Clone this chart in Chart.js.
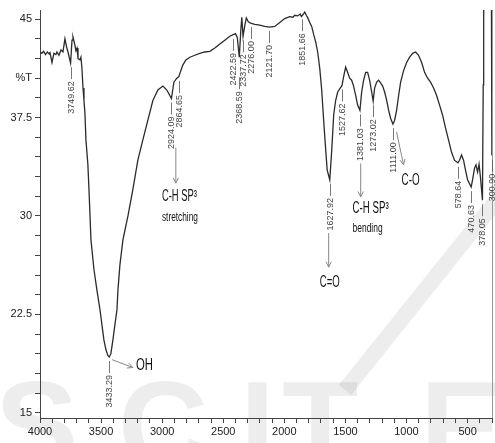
<!DOCTYPE html>
<html>
<head>
<meta charset="utf-8">
<script src="https://cdn.jsdelivr.net/npm/chart.js@4"></script>
<style>
  html, body { margin: 0; padding: 0; background: #fff; }
  #wrap { width: 495px; height: 443px; position: relative; }
</style>
</head>
<body>
<div id="wrap"><canvas id="ftir"></canvas></div>
<script>
// FTIR spectrum, values (wavenumber cm-1 / %T)
const wavenumbers = [
  4000, 3985, 3970, 3955, 3940, 3925, 3918, 3902, 3886, 3870, 3861, 3845, 3828, 3812, 3796, 3783, 3771,
  3749.62, 3738, 3730, 3714, 3706, 3697, 3689, 3673, 3665, 3657, 3648, 3640, 3632, 3624, 3608, 3599,
  3583, 3558, 3534, 3509, 3477, 3460, 3444, 3433.29, 3420, 3403, 3387, 3370, 3362, 3346, 3321, 3280,
  3240, 3199, 3158, 3117, 3076, 3035, 2994, 2962, 2924.09, 2904, 2880, 2864.65, 2831, 2806, 2773, 2733,
  2692, 2651, 2610, 2569, 2528, 2487, 2446, 2422.59, 2400, 2385, 2368.59, 2356, 2348, 2337.72, 2322,
  2311, 2295, 2276.00, 2242, 2201, 2160, 2121.70, 2078, 2037, 1997, 1956, 1930, 1915, 1890, 1870, 1860,
  1851.66, 1840, 1833, 1820, 1808, 1792, 1776, 1759, 1743, 1727, 1710, 1694, 1678, 1661, 1649, 1627.92,
  1612, 1596, 1580, 1563, 1527.62, 1514, 1498, 1482, 1465, 1449, 1433, 1416, 1400, 1381.03, 1367, 1351,
  1334, 1318, 1302, 1285, 1273.02, 1261, 1244, 1228, 1212, 1195, 1179, 1163, 1146, 1130, 1111.00, 1097,
  1081, 1064, 1048, 1023, 999, 974, 950, 925, 901, 876, 852, 827, 803, 778, 754, 729, 705, 680, 656, 631,
  607, 578.64, 566, 549, 533, 517, 500, 470.63, 459, 443, 431, 418, 406, 394, 378.05, 372, 368, 340, 305,
  300.90
];
const transmittance = [
  42.5, 42.4, 42.55, 42.3, 42.5, 42.35, 42.45, 41.7, 42.4, 42.3, 42.5, 42.25, 42.65, 42.5, 43.5, 42.9, 42.5,
  41.65, 43.4, 43.65, 43.0, 42.6, 42.8, 42.0, 41.9, 42.1, 41.3, 39.75, 38.8, 37.8, 35.8, 33.9, 32.0,
  28.2, 25.9, 24.35, 22.85, 20.55, 19.8, 19.35, 19.25, 19.5, 20.55, 21.7, 22.85, 24.35, 26.25, 28.2, 30.0,
  32.0, 34.25, 35.8, 37.3, 38.8, 39.6, 39.9, 39.6, 38.95, 40.2, 40.5, 40.6, 41.5, 41.9, 42.1, 42.25,
  42.4, 42.5, 42.55, 42.8, 43.1, 43.4, 43.7, 43.8, 43.9, 43.6, 42.1, 44.2, 45.15, 43.7, 44.6,
  45.1, 44.8, 44.7, 44.6, 44.55, 44.45, 44.4, 44.45, 44.75, 45.05, 45.2, 45.15, 45.3, 45.25, 45.4, 45.2,
  45.3, 45.45, 45.55, 45.3, 45.1, 44.75, 44.45, 43.8, 43.25, 42.5, 41.25, 39.6, 37.3, 35.0, 33.5, 32.75,
  35.0, 37.7, 38.8, 39.45, 39.95, 40.65, 41.35, 40.95, 40.5, 40.35, 39.9, 39.2, 38.45, 38.05, 39.45, 40.35,
  40.95, 40.95, 40.35, 39.45, 38.75, 39.75, 40.2, 40.35, 40.15, 39.9, 39.45, 38.85, 38.05, 37.45, 37.0, 37.3,
  38.05, 39.2, 40.2, 41.1, 41.7, 42.1, 42.4, 42.5, 42.25, 41.7, 40.95, 40.5, 40.2, 39.75, 39.2, 38.45, 37.7, 36.7, 35.8, 34.85,
  34.25, 34.05, 34.25, 34.65, 34.25, 33.5, 32.75, 32.2, 32.75, 33.65, 33.9, 33.35, 33.95, 32.9, 31.2, 40.0, 46.5, 47.5, 47.0,
  34.6
];

// labelled peaks (text = wavenumber)
const peakLabels = [3749.62, 3433.29, 2924.09, 2864.65, 2422.59, 2368.59, 2337.72, 2276.00, 2121.70,
  1851.66, 1627.92, 1527.62, 1381.03, 1273.02, 1111.00, 578.64, 470.63, 378.05, 300.90];

// axis ticks
const xTickValues = [4000, 3900, 3800, 3700, 3600, 3500, 3400, 3300, 3200, 3100, 3000, 2900, 2800, 2700,
  2600, 2500, 2400, 2300, 2200, 2100, 2000, 1900, 1800, 1700, 1600, 1500, 1400, 1300, 1200, 1100, 1000,
  900, 800, 700, 600, 500, 400, 300];
const xTickLabels = { 4000: '4000', 3500: '3500', 3000: '3000', 2500: '2500', 2000: '2000', 1500: '1500', 1000: '1000', 500: '500' };
const yTickValues = [15, 16.5, 18, 19.5, 21, 22.5, 24, 25.5, 27, 28.5, 30, 31.5, 33, 34.5, 36, 37.5, 39, 40.5, 42, 43.5, 45];
const yTickLabels = { 45: '45', 40.5: '%T', 37.5: '37.5', 30: '30', 22.5: '22.5', 15: '15' };

// band assignments: text, anchor (wavenumber, %T), arrow from/to
const bandNotes = [
  { text: 'C-H SP³', x: 3002, y: 31.45, size: 16, width: 35 },
  { text: 'stretching', x: 3002, y: 29.9, size: 12, width: 36 },
  { text: 'C-H SP³', x: 1441, y: 30.6, size: 16, width: 36 },
  { text: 'bending', x: 1441, y: 29.0, size: 12, width: 30 },
  { text: 'C=O', x: 1710, y: 24.95, size: 17, width: 20 },
  { text: 'C-O', x: 1040, y: 32.75, size: 17, width: 18 },
  { text: 'OH', x: 3215, y: 18.65, size: 17, width: 17 }
];
const bandArrows = [
  { from: [2888, 35.2], to: [2888, 32.5] },
  { from: [1375, 34.0], to: [1375, 31.45] },
  { from: [1637, 28.7], to: [1637, 26.1] },
  { from: [1081, 36.4], to: [1024, 33.9] },
  { from: [3411, 19.05], to: [3240, 18.45] }
];

const FONT = '"Liberation Sans Narrow", "Liberation Sans", Arial, sans-serif';

// faint publisher watermark behind the plot
const watermark = {
  id: 'watermark',
  beforeDraw(chart) {
    const ctx = chart.ctx;
    ctx.save();
    ctx.fillStyle = 'rgba(0,0,0,0.07)';
    ctx.font = 'bold 125px "Liberation Sans", Arial, sans-serif';
    ctx.textBaseline = 'alphabetic';
    [['S', -5], ['C', 118], ['I', 240], ['T', 282], ['E', 420]].forEach(([ch, px]) => ctx.fillText(ch, px, 468));
    ctx.strokeStyle = 'rgba(0,0,0,0.07)';
    ctx.lineWidth = 16;
    ctx.beginPath();
    ctx.moveTo(505, 190);
    ctx.lineTo(345, 390);
    ctx.stroke();
    ctx.restore();
  }
};

// right frame line, peak labels and band notes
const annotations = {
  id: 'annotations',
  afterDatasetsDraw(chart) {
    const { ctx, chartArea, scales: { x, y } } = chart;
    ctx.save();
    ctx.strokeStyle = '#999';
    ctx.lineWidth = 1;
    ctx.beginPath();
    ctx.moveTo(chartArea.right + 0.5, chartArea.top);
    ctx.lineTo(chartArea.right + 0.5, chartArea.bottom);
    ctx.stroke();

    // vertical peak labels
    ctx.font = '9px ' + FONT;
    ctx.fillStyle = '#444';
    ctx.strokeStyle = '#555';
    ctx.lineWidth = 0.8;
    peakLabels.forEach(wn => {
      const i = wavenumbers.indexOf(wn);
      const px = Math.round(x.getPixelForValue(wn)) + 0.5;
      const gap = wn === 2368.59 ? 20 : 4;
      const top = Math.max(y.getPixelForValue(transmittance[i]), chartArea.top) + gap;
      ctx.beginPath();
      ctx.moveTo(px, top);
      ctx.lineTo(px, top + 12);
      ctx.stroke();
      ctx.save();
      ctx.translate(px, top + 14);
      ctx.rotate(-Math.PI / 2);
      ctx.textAlign = 'right';
      ctx.textBaseline = 'middle';
      ctx.fillText(wn.toFixed(2), 0, 0);
      ctx.restore();
    });

    // arrows
    ctx.strokeStyle = '#888';
    ctx.lineWidth = 1;
    bandArrows.forEach(a => {
      const x1 = x.getPixelForValue(a.from[0]), y1 = y.getPixelForValue(a.from[1]);
      const x2 = x.getPixelForValue(a.to[0]), y2 = y.getPixelForValue(a.to[1]);
      const ang = Math.atan2(y2 - y1, x2 - x1);
      ctx.beginPath();
      ctx.moveTo(x1, y1);
      ctx.lineTo(x2, y2);
      ctx.moveTo(x2 - 6 * Math.cos(ang - 0.45), y2 - 6 * Math.sin(ang - 0.45));
      ctx.lineTo(x2, y2);
      ctx.lineTo(x2 - 6 * Math.cos(ang + 0.45), y2 - 6 * Math.sin(ang + 0.45));
      ctx.stroke();
    });

    // band assignment text
    ctx.fillStyle = '#111';
    ctx.textAlign = 'left';
    ctx.textBaseline = 'middle';
    bandNotes.forEach(n => {
      ctx.font = n.size + 'px ' + FONT;
      ctx.fillText(n.text, x.getPixelForValue(n.x), y.getPixelForValue(n.y), n.width);
    });
    ctx.restore();
  }
};

const ctx = document.getElementById('ftir').getContext('2d');
new Chart(ctx, {
  type: 'line',
  data: {
    datasets: [{
      data: wavenumbers.map((wn, i) => ({ x: wn, y: transmittance[i] })),
      borderColor: '#2b2b2b',
      borderWidth: 1.3,
      pointRadius: 0,
      tension: 0,
      fill: false
    }]
  },
  options: {
    responsive: true,
    maintainAspectRatio: false,
    animation: false,
    layout: { padding: { top: 10, right: 3, left: 0, bottom: 0 } },
    plugins: { legend: { display: false }, tooltip: { enabled: false } },
    scales: {
      x: {
        type: 'linear',
        reverse: true,
        min: 300,
        max: 4000,
        afterBuildTicks: scale => { scale.ticks = xTickValues.map(v => ({ value: v })); },
        afterFit: scale => { scale.height = 25; },
        border: { color: '#444' },
        grid: { drawOnChartArea: false, tickLength: 5, color: '#444' },
        ticks: {
          autoSkip: false, maxRotation: 0, padding: 2,
          color: '#222', font: { family: FONT, size: 11 },
          callback: v => xTickLabels[v] || ''
        }
      },
      y: {
        type: 'linear',
        min: 14.6,
        max: 45.7,
        afterBuildTicks: scale => { scale.ticks = yTickValues.map(v => ({ value: v })); },
        afterFit: scale => { scale.width = 40; },
        border: { color: '#444' },
        grid: { drawOnChartArea: false, tickLength: 5, color: '#444' },
        ticks: {
          autoSkip: false, padding: 3,
          color: '#222', font: { family: FONT, size: 11 },
          callback: v => yTickLabels[v] || ''
        }
      }
    }
  },
  plugins: [watermark, annotations]
});
</script>
</body>
</html>
